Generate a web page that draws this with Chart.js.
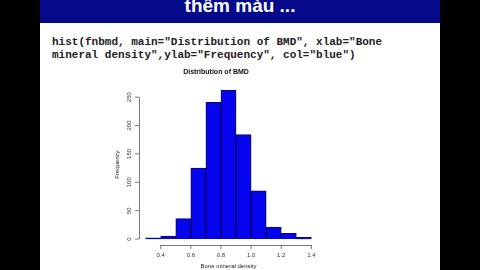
<!DOCTYPE html>
<html lang="vi">
<head>
    <meta charset="UTF-8">
    <title>Distribution of BMD</title>
    <script src="https://cdn.jsdelivr.net/npm/chart.js"></script>
    <style>
        html, body {
            margin: 0;
            padding: 0;
            background: #000;
            width: 480px;
            height: 270px;
            overflow: hidden;
        }
        .slide {
            position: absolute;
            left: 40px;
            top: 0;
            width: 400px;
            height: 270px;
            background: #fff;
        }
        .slide-title {
            position: absolute;
            left: 0;
            top: 0;
            width: 400px;
            height: 23px;
            background: #050a8a;
            overflow: hidden;
        }
        .slide-title span {
            position: absolute;
            left: 0;
            width: 400px;
            top: -5px;
            text-align: center;
            color: #fff;
            font-family: "Liberation Sans", Arial, sans-serif;
            font-weight: bold;
            font-size: 19px;
        }
        .code {
            position: absolute;
            left: 12px;
            top: 36px;
            font-family: "Liberation Mono", "DejaVu Sans Mono", monospace;
            font-weight: bold;
            font-size: 11px;
            line-height: 13px;
            color: #222;
            white-space: pre;
        }
        #chart {
            position: absolute;
            left: 0;
            top: 0;
        }
    </style>
</head>
<body>
    <div class="slide">
        <div class="slide-title"><span>thêm màu ...</span></div>
        <div class="code">hist(fnbmd, main="Distribution of BMD", xlab="Bone
mineral density",ylab="Frequency", col="blue")</div>
    </div>
    <canvas id="chart" width="480" height="270"></canvas>

    <script>
        // histogram bins (left/right break of each bin) and counts
        const binStarts = [0.3, 0.4, 0.5, 0.6, 0.7, 0.8, 0.9, 1.0, 1.1, 1.2, 1.3];
        const binEnds   = [0.4, 0.5, 0.6, 0.7, 0.8, 0.9, 1.0, 1.1, 1.2, 1.3, 1.4];
        const counts    = [2, 5, 36, 125, 241, 262, 184, 85, 21, 10, 3];
        const xTicks = [0.4, 0.6, 0.8, 1.0, 1.2, 1.4];
        const yTicks = [0, 50, 100, 150, 200, 250];

        const points = binStarts.map((s, i) => ({ x: (s + binEnds[i]) / 2, y: counts[i] }));

        // R style axes: line only from first to last tick
        const rAxes = {
            id: 'rAxes',
            afterDraw(chart) {
                const ctx = chart.ctx;
                const xs = chart.scales.x, ys = chart.scales.y;
                ctx.save();
                ctx.strokeStyle = '#555';
                ctx.lineWidth = 0.8;
                ctx.beginPath();
                const yLine = ys.bottom;
                ctx.moveTo(xs.getPixelForValue(xTicks[0]), yLine + 0.5);
                ctx.lineTo(xs.getPixelForValue(xTicks[xTicks.length - 1]), yLine + 0.5);
                xTicks.forEach(t => {
                    const px = xs.getPixelForValue(t);
                    ctx.moveTo(px, yLine);
                    ctx.lineTo(px, yLine + 4);
                });
                const xLine = xs.left;
                ctx.moveTo(xLine + 0.5, ys.getPixelForValue(yTicks[0]));
                ctx.lineTo(xLine + 0.5, ys.getPixelForValue(yTicks[yTicks.length - 1]));
                yTicks.forEach(t => {
                    const py = ys.getPixelForValue(t);
                    ctx.moveTo(xLine, py);
                    ctx.lineTo(xLine - 4, py);
                });
                ctx.stroke();

                ctx.fillStyle = '#333';
                ctx.font = '6px "Liberation Sans", Arial, sans-serif';
                ctx.textAlign = 'center';
                ctx.textBaseline = 'middle';
                xTicks.forEach(t => {
                    ctx.fillText(t.toFixed(1), xs.getPixelForValue(t), yLine + 10);
                });
                yTicks.forEach(t => {
                    ctx.save();
                    ctx.translate(xLine - 10, ys.getPixelForValue(t));
                    ctx.rotate(-Math.PI / 2);
                    ctx.fillText(String(t), 0, 0);
                    ctx.restore();
                });
                ctx.restore();
            }
        };

        new Chart(document.getElementById('chart'), {
            type: 'bar',
            data: {
                datasets: [{
                    label: 'Frequency',
                    data: points,
                    backgroundColor: '#0505f0',
                    borderColor: '#0a0a50',
                    borderWidth: 1,
                    barPercentage: 1,
                    categoryPercentage: 1
                }]
            },
            options: {
                responsive: false,
                animation: false,
                layout: {
                    padding: { left: 114, right: 162, top: 62, bottom: 0 }
                },
                plugins: {
                    legend: { display: false },
                    tooltip: { enabled: false },
                    title: {
                        display: true,
                        text: 'Distribution of BMD',
                        color: '#111',
                        font: { family: '"Liberation Sans", Arial, sans-serif', size: 7, weight: 'bold' },
                        padding: { top: 6, bottom: 8 }
                    }
                },
                scales: {
                    x: {
                        type: 'linear',
                        offset: false,
                        min: 0.256,
                        max: 1.444,
                        grid: { display: false },
                        border: { display: false },
                        ticks: { display: false },
                        title: {
                            display: true,
                            text: 'Bone mineral density',
                            color: '#222',
                            font: { family: '"Liberation Sans", Arial, sans-serif', size: 6 },
                            padding: { top: 0, bottom: 0 }
                        },
                        afterFit(scale) { scale.height = 25; }
                    },
                    y: {
                        min: -10.5,
                        max: 272.5,
                        grid: { display: false },
                        border: { display: false },
                        ticks: { display: false },
                        title: {
                            display: true,
                            text: 'Frequency',
                            color: '#222',
                            font: { family: '"Liberation Sans", Arial, sans-serif', size: 6 },
                            padding: 0
                        },
                        afterFit(scale) { scale.width = 25; }
                    }
                }
            },
            plugins: [rAxes]
        });
    </script>
</body>
</html>
